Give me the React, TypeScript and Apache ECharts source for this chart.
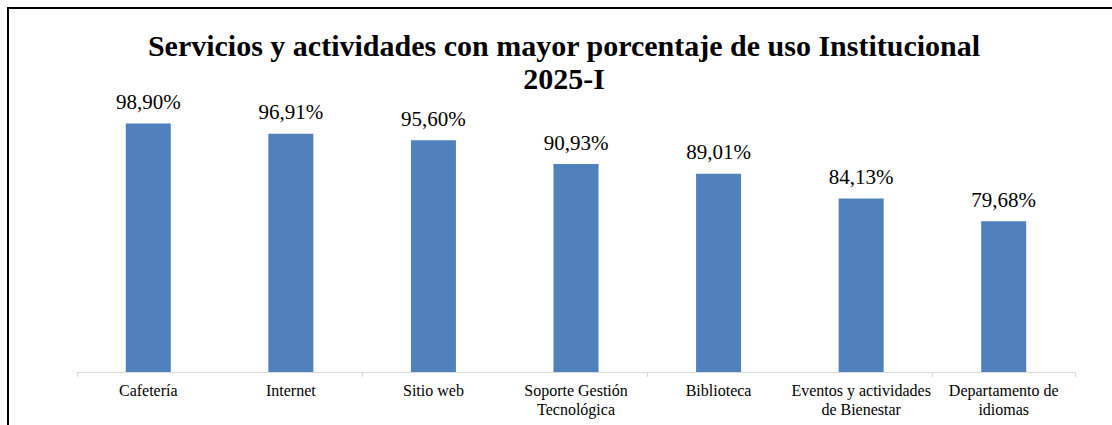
import React, { useEffect, useRef } from "react";
import * as echarts from "echarts";

const categories = [
  "Cafetería",
  "Internet",
  "Sitio web",
  "Soporte Gestión\nTecnológica",
  "Biblioteca",
  "Eventos y actividades\nde Bienestar",
  "Departamento de\nidiomas",
];
const values = [98.9, 96.91, 95.6, 90.93, 89.01, 84.13, 79.68];
const titleText = "Servicios y actividades con mayor porcentaje de uso Institucional\n2025-I";
const yMin = 50;
const yMax = 100;

const SERIF = "Liberation Serif";
const fmt = (v: number) => v.toFixed(2).replace(".", ",") + "%";

export default function App() {
  const ref = useRef<HTMLDivElement>(null);
  useEffect(() => {
    if (!ref.current) return;
    const chart = echarts.init(ref.current, null, { renderer: "svg" });
    const frame = {
      id: "frame",
      type: "rect",
      shape: { x: 8, y: 8, width: 1200, height: 500 },
      style: { fill: "none", stroke: "#000000", lineWidth: 2 },
      silent: true,
    };
    chart.setOption({
      animation: false,
      backgroundColor: "#ffffff",
      title: {
        text: titleText,
        left: 559,
        top: 24,
        textAlign: "center",
        textStyle: {
          fontFamily: SERIF,
          fontWeight: "bold",
          fontSize: 30,
          lineHeight: 33,
          color: "#000000",
        },
      },
      graphic: [frame],
      grid: { left: 77, right: 37, top: 118, bottom: 53 },
      xAxis: {
        type: "category",
        data: categories,
        axisLine: { show: true, lineStyle: { color: "#d9d9d9", width: 1 } },
        axisTick: { show: true, length: 5, lineStyle: { color: "#d9d9d9" } },
        axisLabel: { show: false },
      },
      yAxis: {
        type: "value",
        min: yMin,
        max: yMax,
        show: false,
        splitLine: { show: false },
      },
      series: [
        {
          type: "bar",
          data: values,
          barWidth: 45,
          itemStyle: { color: "#4f81bd" },
        },
      ],
    });

    const texts: any[] = [];
    values.forEach((v, i) => {
      const p = chart.convertToPixel({ gridIndex: 0 }, [i, v]) as number[];
      texts.push({
        id: "val" + i,
        type: "text",
        x: p[0],
        y: p[1] - 11,
        silent: true,
        style: {
          text: fmt(v),
          fontFamily: SERIF,
          fontWeight: 400,
          fontSize: 21,
          fill: "#000000",
          align: "center",
          verticalAlign: "bottom",
          textAlign: "center",
          textVerticalAlign: "bottom",
        },
      });
    });
    categories.forEach((c, i) => {
      const p = chart.convertToPixel({ gridIndex: 0 }, [i, yMin]) as number[];
      texts.push({
        id: "cat" + i,
        type: "text",
        x: p[0],
        y: p[1] + 9,
        silent: true,
        style: {
          text: c,
          fontFamily: SERIF,
          fontWeight: 400,
          fontSize: 16,
          lineHeight: 19,
          fill: "#000000",
          align: "center",
          verticalAlign: "top",
          textAlign: "center",
          textVerticalAlign: "top",
        },
      });
    });
    chart.setOption({ graphic: [frame, ...texts] });

    return () => chart.dispose();
  }, []);
  return (
    <div
      ref={ref}
      style={{ position: "fixed", left: 0, top: 0, width: 1112, height: 425 }}
    />
  );
}
